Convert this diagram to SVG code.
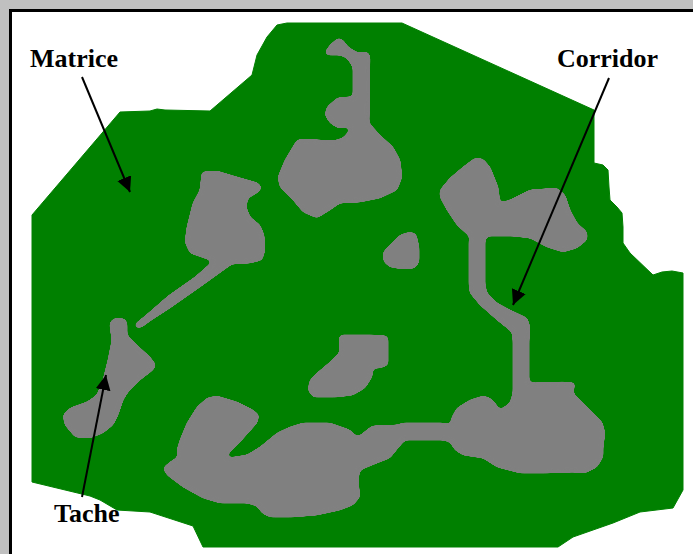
<svg xmlns="http://www.w3.org/2000/svg" width="693" height="554" viewBox="0 0 693 554">
<style>
.g{fill:#008000;stroke:#008000;stroke-width:1;stroke-linejoin:round}
.p{fill:#808080;stroke:#808080;stroke-width:1;stroke-linejoin:round;filter:url(#smooth)}
.lbl{font-family:"Liberation Serif","Times New Roman",serif;font-weight:bold;font-size:26px;fill:#000}
.arr{stroke:#000;stroke-width:2;fill:none;marker-end:url(#ah)}
</style>
<defs>
<marker id="ah" markerUnits="userSpaceOnUse" markerWidth="16" markerHeight="16" refX="15" refY="7.5" orient="auto">
<path d="M0,0 L15,7.5 L0,15 z" fill="#000"/>
</marker>
<filter id="smooth" x="-10%" y="-10%" width="120%" height="120%" color-interpolation-filters="sRGB">
<feGaussianBlur stdDeviation="2"/>
<feColorMatrix type="matrix" values="1 0 0 0 0  0 1 0 0 0  0 0 1 0 0  0 0 0 16 -7.5"/>
</filter>
</defs>
<rect x="0" y="0" width="693" height="554" fill="#c0c0c0"/>
<rect x="10.5" y="10.5" width="700" height="560" fill="#fff" stroke="#000" stroke-width="3"/>
<g id="matrice-area">
<polygon class="g" points="287,23 402,23 594,110 594,163 603,165 608,170 609,187 610,200 617,207 622,213 623,227 623,243 630,253 653,275 662,272 672,271 683,273 683,490 673,508 640,512 613,523 573,537 558,547 203,547 193,526 150,512 117,510 100,500 90,496 32,482 32,215 120,112 150,111 157,109 165,110 210,111 252,75 257,55 267,37 277,25"/>
</g>
<g id="tache-a">
<polygon class="p" points="327,55 325,52 330,45 338,38 343,40 348,47 358,53 368,52 370,57 369,123 380,135 393,147 400,160 402,177 397,190 380,198 360,202 340,203 330,210 317,218 303,212 293,200 280,187 278,177 285,160 297,140 305,139 333,141 343,138 350,130 348,127 338,128 330,123 325,115 327,107 337,98 347,97 353,97 353,67 347,58 340,55"/>
</g>
<g id="tache-b">
<polygon class="p" points="202,172 217,171 237,177 258,183 262,188 257,193 248,198 246,207 250,217 260,225 264,235 265,250 262,260 250,263 232,264 200,287 170,308 150,321 142,327 136,328 135,324 145,316 168,296 195,277 212,262 210,260 190,253 185,242 187,227 193,203 200,190"/>
</g>
<g id="tache-d">
<polygon class="p" points="385,250 400,235 410,232 416,234 419,247 419,262 415,268 403,269 390,267 384,262 383,253"/>
</g>
<g id="tache-e">
<polygon class="p" points="340,335 372,335 387,336 388,338 388,365 380,368 373,368 372,377 365,388 353,395 337,397 313,397 308,390 310,380 317,373 330,362 340,352 339,340"/>
</g>
<g id="tache-f">
<polygon class="p" points="110,322 115,318 125,319 127,323 127,335 137,345 150,357 156,365 153,370 140,380 128,392 123,400 118,415 113,425 103,433 90,438 75,437 65,425 63,415 70,408 87,402 97,395 103,380 108,360 112,340 110,327"/>
</g>
<g id="corridor-network">
<polygon class="p" points="475,158 483,159 490,167 498,187 500,203 510,200 530,190 557,188 565,195 570,210 577,223 587,232 587,240 577,248 563,252 547,247 530,238 513,236 487,236 485,240 485,285 487,293 497,303 510,310 527,318 530,327 529,340 529,382 533,383 563,382 575,383 573,393 587,407 602,422 605,433 603,447 603,457 597,467 585,473 573,472 547,473 520,473 497,467 483,458 463,455 455,450 450,442 443,440 417,440 405,440 398,448 390,458 377,463 360,470 358,480 360,497 353,505 340,510 317,515 293,517 270,517 262,513 257,506 247,503 220,503 203,498 183,487 167,475 163,468 170,462 178,457 177,450 180,440 187,423 197,407 207,398 217,396 237,402 253,410 259,415 257,423 240,442 227,455 228,458 247,455 260,447 277,433 290,427 303,423 330,423 350,430 355,435 358,437 372,426 397,425 403,423 417,423 443,423 450,425 452,417 457,408 470,400 483,396 490,398 495,403 500,410 510,403 513,393 513,340 512,332 497,320 480,305 470,293 469,285 469,240 470,237 457,225 447,210 440,197 440,190 450,178 463,167"/>
</g>
<g id="connectors">
<line class="arr" x1="82" y1="77" x2="130" y2="192"/>
<line class="arr" x1="609" y1="78" x2="513" y2="305"/>
<line class="arr" x1="82" y1="497" x2="106" y2="375"/>
</g>
<g id="labels">
<text class="lbl" x="30" y="67">Matrice</text>
<text class="lbl" x="557" y="67">Corridor</text>
<text class="lbl" x="54" y="522">Tache</text>
</g>
</svg>
